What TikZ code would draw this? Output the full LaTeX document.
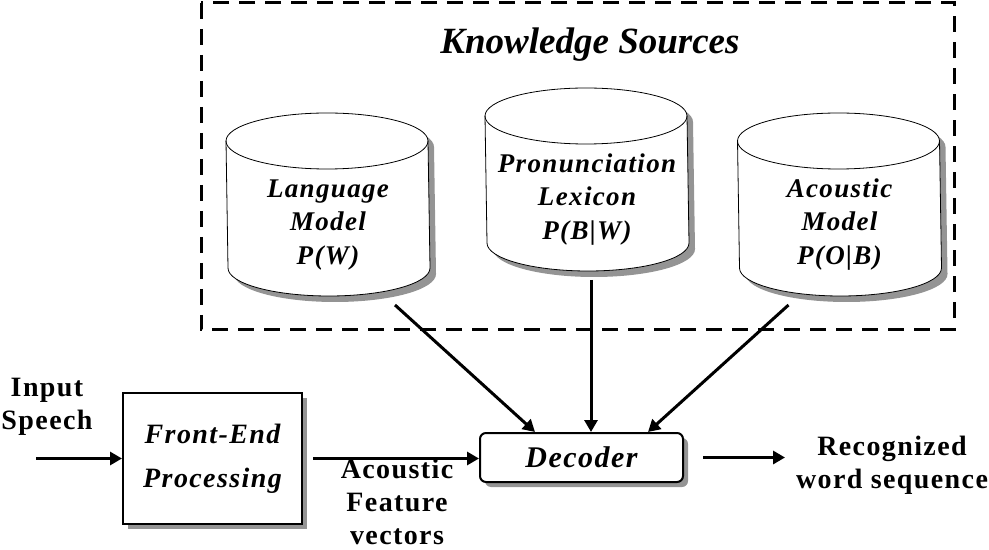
\documentclass[tikz,border=0pt]{standalone}
\usepackage{fontspec}
\setmainfont{Liberation Serif}
\newfontfamily\spaced{Liberation Serif}[LetterSpace=5]
\usetikzlibrary{arrows.meta,calc,positioning,shadows,backgrounds}
\newcommand\dbtext[1]{\makebox[0pt]{\raisebox{-13.5pt}[0pt][0pt]{\begin{tabular}{@{}c@{}}#1\end{tabular}}}}
\tikzset{
	hard shadow/.style={drop shadow={shadow xshift=2.5pt,shadow yshift=-2.5pt,opacity=1,fill=black!42}},
	arr/.style={-{Triangle[length=6pt,width=6.5pt]},line width=1.5pt},
	lbl/.style={align=center,inner sep=1pt,font=\spaced\bfseries\fontsize{14}{16.4}\selectfont},
	db/.style={minimum width=101pt,minimum height=90.5pt,inner sep=0pt,
		font=\spaced\bfseries\itshape\fontsize{13.5}{16.75}\selectfont},
	procbox/.style={draw,fill=white,hard shadow,align=center,
		font=\spaced\bfseries\itshape\fontsize{14}{17}\selectfont}
}
\begin{document}
\begin{tikzpicture}[x=0.5pt,y=-0.5pt,line width=1pt]
      \useasboundingbox (0,0) rectangle (989,550);
      \draw [line width=1.5pt,dash pattern=on 8pt off 5pt] (201,3) rectangle (954,330);
      \node [font=\bfseries\itshape\fontsize{18.5}{22}\selectfont] (ks) at (590,45) {Knowledge Sources};
      \node [db] (lm) at (328,204.5) {\dbtext{Language\\Model\\P(W)}};
      \node [db] (pl) at (587,179.5) {\dbtext{Pronunciation\\Lexicon\\P(B|W)}};
      \node [db] (am) at (839.5,204.5) {\dbtext{Acoustic\\Model\\P(O|B)}};
      \begin{scope}[on background layer]
        \foreach \n in {lm,pl,am} {
          \fill [black!42] ($(\n.north west)+(6,34)$) arc[start angle=180,end angle=0,x radius=50.5pt,y radius=14pt]
            -- ($(\n.south east)+(6,-22)$) arc[start angle=0,end angle=-180,x radius=50.5pt,y radius=14pt] -- cycle;
          \draw [fill=white] ($(\n.north west)+(0,28)$) arc[start angle=180,end angle=0,x radius=50.5pt,y radius=14pt]
            -- ($(\n.south east)+(0,-28)$) arc[start angle=0,end angle=-180,x radius=50.5pt,y radius=14pt] -- cycle;
          \draw ($(\n.north west)+(0,28)$) arc[start angle=180,end angle=360,x radius=50.5pt,y radius=14pt];
        }
      \end{scope}
      \node [procbox,minimum width=89.5pt,minimum height=65.5pt] (fe) at (212.5,458.5) {Front-End\\[5pt]Processing};
      \node [procbox,rounded corners=3pt,minimum width=101.5pt,minimum height=24.5pt,
            font=\spaced\bfseries\itshape\fontsize{15}{18}\selectfont] (dec) at (581.5,457.5) {Decoder};
      \coordinate [left=43pt of fe] (in);
      \node [lbl] (is) at (47,407) {Input\\Speech};
      \node [lbl] (afv) at (397,502) {Acoustic\\Feature\\vectors};
      \node [lbl] (rws) at (892,465) {Recognized\\word sequence};
      \draw [arr] (in) -- (fe.west);
      \draw [arr,shorten <=5pt] (fe.east) -- (fe.east -| dec.west);
      \draw [arr,shorten <=9.5pt,shorten >=4pt] (dec.east) -- (dec.east -| rws.west);
      \draw [arr] ($(lm.south)+(67,9)$) -- ($(dec.north)+(-46.5,0)$);
      \draw [arr] ($(pl.south)+(4,9)$) -- ($(dec.north)+(9.5,0)$);
      \draw [arr] ($(am.south)+(-51,9)$) -- ($(dec.north)+(66.5,0)$);
   \end{tikzpicture}
\end{document}
